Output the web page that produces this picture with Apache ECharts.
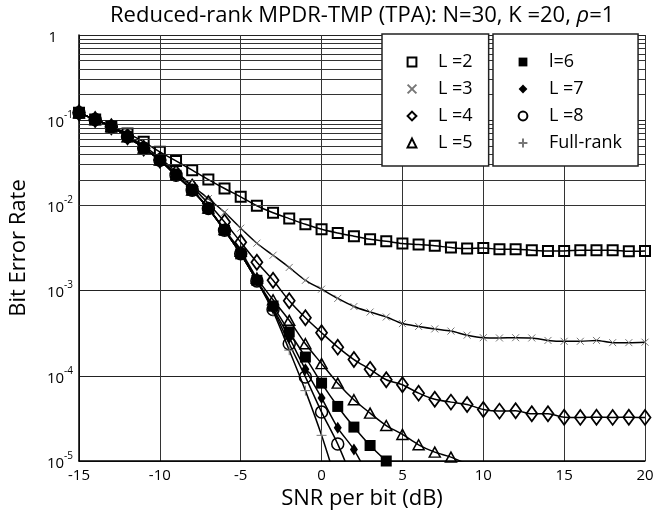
<!DOCTYPE html>
<html>
<head>
<meta charset="utf-8">
<script src="https://cdn.jsdelivr.net/npm/echarts@6/dist/echarts.min.js"></script>
<style>
  html, body { margin: 0; padding: 0; background: #fff; }
  #chart { width: 671px; height: 519px; }
</style>
</head>
<body>
<div id="chart"></div>
<script>
// SNR per bit (dB), one point per dB
const snr = [-15, -14, -13, -12, -11, -10, -9, -8, -7, -6, -5, -4, -3, -2, -1, 0, 1, 2, 3, 4,
  5, 6, 7, 8, 9, 10, 11, 12, 13, 14, 15, 16, 17, 18, 19, 20]

// bit error rate per series (null = not plotted)
const berL2 = [0.122, 0.102, 0.084, 0.070, 0.0557, 0.0425, 0.0333, 0.0259, 0.0201, 0.0158, 0.0126, 0.0099,
  0.0082, 0.0070, 0.0060, 0.00525, 0.00475, 0.00435, 0.0040, 0.0038, 0.00357, 0.00347, 0.00336, 0.0032,
  0.00311, 0.00316, 0.00306, 0.00306, 0.00298, 0.00292, 0.00292, 0.00298, 0.00298, 0.00298, 0.00289, 0.00292]
const berL3 = [0.122, 0.102, 0.084, 0.066, 0.050, 0.036, 0.025, 0.017, 0.012, 0.0083, 0.0054, 0.0036,
  0.0026, 0.00187, 0.00132, 0.00104, 0.00081, 0.00065, 0.00056, 0.00049, 0.00041, 0.00038, 0.000355, 0.000335,
  0.0003, 0.00028, 0.000278, 0.00028, 0.000278, 0.00026, 0.000254, 0.000254, 0.00026, 0.000245, 0.000245, 0.000248]
const berL4 = [0.122, 0.102, 0.084, 0.064, 0.047, 0.034, 0.024, 0.0165, 0.0105, 0.0064, 0.0037, 0.00215,
  0.00132, 0.00076, 0.00048, 0.00032, 0.000217, 0.000155, 0.000119, 0.00009, 7.85e-5, 6.26e-5, 5.3e-5, 4.91e-5,
  4.61e-5, 4.03e-5, 3.85e-5, 3.9e-5, 3.59e-5, 3.59e-5, 3.27e-5, 3.25e-5, 3.27e-5, 3.25e-5, 3.27e-5, 3.25e-5]
const berL5 = [0.122, 0.102, 0.084, 0.064, 0.047, 0.034, 0.0226, 0.0151, 0.0093, 0.0052, 0.0029, 0.0014,
  0.00078, 0.000448, 0.000238, 0.000139, 8.2e-5, 5.24e-5, 3.65e-5, 2.61e-5, 2.05e-5, 1.55e-5, 1.27e-5, 1.11e-5,
  9.2e-6, null, null, null, null, null, null, null, null, null, null, null]
const berL6 = [0.122, 0.102, 0.084, 0.064, 0.047, 0.034, 0.0226, 0.0151, 0.0092, 0.0051, 0.0027, 0.00132,
  0.00066, 0.000327, 0.000166, 8.2e-5, 4.37e-5, 2.5e-5, 1.52e-5, 1.0e-5, null, null, null, null,
  null, null, null, null, null, null, null, null, null, null, null, null]
const berL7 = [0.122, 0.102, 0.084, 0.064, 0.047, 0.034, 0.0226, 0.0151, 0.0092, 0.0051, 0.0027, 0.0013,
  0.00062, 0.00028, 0.000119, 5.5e-5, 2.45e-5, 1.36e-5, 6e-6, null, null, null, null, null,
  null, null, null, null, null, null, null, null, null, null, null, null]
const berL8 = [0.122, 0.102, 0.084, 0.064, 0.047, 0.034, 0.0226, 0.0151, 0.0092, 0.0051, 0.0027, 0.0013,
  0.0006, 0.000238, 9.7e-5, 3.75e-5, 1.58e-5, 5.5e-6, null, null, null, null, null, null,
  null, null, null, null, null, null, null, null, null, null, null, null]
const berFull = [0.122, 0.102, 0.084, 0.064, 0.047, 0.034, 0.0226, 0.0151, 0.0092, 0.0051, 0.0027, 0.0013,
  0.00057, 0.0002, 6.7e-5, 2.0e-5, 5e-6, null, null, null, null, null, null, null,
  null, null, null, null, null, null, null, null, null, null, null, null]

// minor log grid lines: 2..9 x 10^k
const minorGrid = [
  2e-5, 3e-5, 4e-5, 5e-5, 6e-5, 7e-5, 8e-5, 9e-5,
  2e-4, 3e-4, 4e-4, 5e-4, 6e-4, 7e-4, 8e-4, 9e-4,
  2e-3, 3e-3, 4e-3, 5e-3, 6e-3, 7e-3, 8e-3, 9e-3,
  2e-2, 3e-2, 4e-2, 5e-2, 6e-2, 7e-2, 8e-2, 9e-2,
  0.2, 0.3, 0.4, 0.5, 0.6, 0.7, 0.8, 0.9
]

const FONT = "'Open Sans', 'Noto Sans', sans-serif"

const pairs = vals => snr.map((x, i) => [x, vals[i]]).filter(p => p[1] != null)

const CROSS = 'path://M0,0L10,10M10,0L0,10'
const PLUS = 'path://M5,0L5,10M0,5L10,5'

const mkSeries = (name, vals, symbol, size, itemStyle, z) => ({
  name,
  type: 'line',
  data: pairs(vals),
  smooth: 0.3,
  clip: true,
  symbol,
  symbolSize: size,
  showAllSymbol: true,
  itemStyle,
  lineStyle: { color: '#000', width: 1.5 },
  emphasis: { disabled: true },
  z: z || 3
})

const hollow = (w) => ({ color: 'rgba(0,0,0,0)', borderColor: '#000', borderWidth: w })

const series = [
  mkSeries('L =2', berL2, 'rect', 10, hollow(2)),
  mkSeries('L =3', berL3, CROSS, 7, { color: 'rgba(0,0,0,0)', borderColor: '#777', borderWidth: 1 }),
  mkSeries('L =4', berL4, 'diamond', [11, 15], hollow(1.8)),
  mkSeries('L =5', berL5, 'triangle', [11, 10], hollow(1.5)),
  mkSeries('l=6', berL6, 'rect', 11, { color: '#000' }, 5),
  mkSeries('L =7', berL7, 'diamond', [8, 12], { color: '#000' }, 5),
  mkSeries('L =8', berL8, 'circle', 12, hollow(1.5)),
  mkSeries('Full-rank', berFull, PLUS, 10, { color: 'rgba(0,0,0,0)', borderColor: '#777', borderWidth: 1 }),
  {
    name: 'minor',
    type: 'line',
    data: [],
    silent: true,
    z: 1,
    markLine: {
      silent: true,
      symbol: 'none',
      label: { show: false },
      lineStyle: { color: '#333', width: 1, type: 'solid' },
      animation: false,
      data: minorGrid.map(v => ({ yAxis: v }))
    }
  }
]

const legendBase = {
  orient: 'vertical',
  itemWidth: 42,
  itemHeight: 11,
  itemGap: 5,
  backgroundColor: '#fff',
  borderColor: '#222',
  borderWidth: 1.5,
  borderRadius: 0,
  z: 10,
  lineStyle: { opacity: 0 },
  textStyle: { fontFamily: FONT, fontSize: 18, color: '#000', lineHeight: 22 }
}

const chart = echarts.init(document.getElementById('chart'), null, { renderer: 'canvas' })

chart.setOption({
  animation: false,
  backgroundColor: '#fff',
  title: {
    text: 'Reduced-rank MPDR-TMP (TPA): N=30, K =20, {i|ρ}=1',
    left: 105,
    top: 0,
    textStyle: {
      fontFamily: FONT, fontSize: 22, fontWeight: 'normal', color: '#000',
      rich: { i: { fontFamily: FONT, fontSize: 22, fontStyle: 'italic', color: '#000' } }
    }
  },
  grid: { left: 78, right: 26, top: 35, bottom: 58, containLabel: false },
  legend: [
    Object.assign({}, legendBase, {
      left: 382, top: 34,
      padding: [17, 16, 12, 8],
      data: ['L =2', 'L =3', 'L =4', 'L =5']
    }),
    Object.assign({}, legendBase, {
      left: 493, top: 34,
      padding: [17, 16, 12, 8],
      data: ['l=6', 'L =7', 'L =8', 'Full-rank']
    })
  ],
  xAxis: {
    type: 'value',
    min: -15,
    max: 20,
    interval: 5,
    name: 'SNR per bit (dB)',
    nameLocation: 'middle',
    nameGap: 25,
    nameTextStyle: { fontFamily: FONT, fontSize: 22, color: '#000' },
    axisLine: { lineStyle: { color: '#000', width: 1.5 } },
    axisTick: { show: false },
    axisLabel: { fontFamily: FONT, fontSize: 15, color: '#000', margin: 7 },
    splitLine: { show: true, lineStyle: { color: '#333', width: 1 } }
  },
  yAxis: {
    type: 'log',
    logBase: 10,
    min: 1e-5,
    max: 1,
    name: 'Bit Error Rate',
    nameLocation: 'middle',
    nameGap: 49,
    nameTextStyle: { fontFamily: FONT, fontSize: 22, color: '#000' },
    axisLine: { show: true, onZero: false, lineStyle: { color: '#000', width: 1.5 } },
    axisTick: { show: false },
    axisLabel: {
      margin: 6,
      formatter: v => {
        const e = Math.round(Math.log10(v))
        return e === 0 ? '{b|1}{p|}' : '{b|10}{s|' + e + '}'
      },
      rich: {
        b: { fontFamily: FONT, fontSize: 15, color: '#000', lineHeight: 20, verticalAlign: 'bottom' },
        s: { fontFamily: FONT, fontSize: 10, color: '#000', lineHeight: 20, verticalAlign: 'top' },
        p: { width: 16, lineHeight: 20 }
      }
    },
    splitLine: { show: true, lineStyle: { color: '#222', width: 1 } }
  },
  series
})
</script>
</body>
</html>
